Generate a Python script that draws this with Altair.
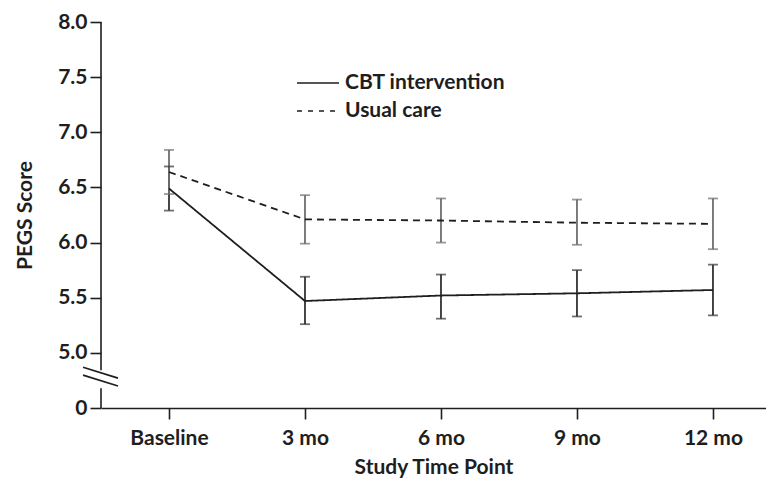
import altair as alt
import pandas as pd

# ---- data ----
timepoints = [0, 1, 2, 3, 4]
tick_labels = ["Baseline", "3 mo", "6 mo", "9 mo", "12 mo"]

cbt_mean = [6.49, 5.47, 5.52, 5.54, 5.57]
cbt_low = [6.29, 5.26, 5.31, 5.33, 5.34]
cbt_high = [6.69, 5.69, 5.71, 5.75, 5.80]

uc_mean = [6.64, 6.21, 6.20, 6.18, 6.17]
uc_low = [6.44, 5.99, 6.00, 5.98, 5.94]
uc_high = [6.84, 6.43, 6.40, 6.39, 6.40]

series_names = ["CBT intervention", "Usual care"]
y_ticks = [4.5, 5.0, 5.5, 6.0, 6.5, 7.0, 7.5, 8.0]  # 4.5 is shown as "0" (broken axis)

rows = []
for name, m, lo, hi in [
    (series_names[0], cbt_mean, cbt_low, cbt_high),
    (series_names[1], uc_mean, uc_low, uc_high),
]:
    for t, a, b, c in zip(timepoints, m, lo, hi):
        rows.append({"t": t, "series": name, "group": name, "mean": a, "low": b, "high": c})
df = pd.DataFrame(rows)
legend_df = pd.DataFrame({"series": series_names})

FONT = "Lato"
INK = "#1e1e1e"
X_DOMAIN = [-0.5, 4.39]
Y_DOMAIN = [4.5, 8.0]

label_expr = "[" + ",".join(f"'{s}'" for s in tick_labels) + "][datum.value]"

x_enc = alt.X(
    "t:Q",
    scale=alt.Scale(domain=X_DOMAIN, nice=False, zero=False),
    axis=alt.Axis(
        values=timepoints,
        labelExpr=label_expr,
        title="Study Time Point",
        grid=False,
        tickSize=11,
        labelPadding=8,
        titlePadding=8,
    ),
)
y_scale = alt.Scale(domain=Y_DOMAIN, nice=False, zero=False)
y_enc = alt.Y(
    "mean:Q",
    scale=y_scale,
    axis=alt.Axis(
        values=y_ticks,
        labelExpr="datum.value == 4.5 ? '0' : format(datum.value, '.1f')",
        title="PEGS Score",
        grid=False,
        domain=False,
        tickSize=11,
        labelPadding=3,
        titlePadding=22,
    ),
)

dash_scale = alt.Scale(domain=series_names, range=[[1, 0], [7, 5]])
color_scale = alt.Scale(domain=series_names, range=["#333333", "#6e6e6e"])

lines = alt.Chart(df).mark_line(color=INK, strokeWidth=1.8).encode(
    x=x_enc,
    y=y_enc,
    strokeDash=alt.StrokeDash("series:N", scale=dash_scale, legend=None),
    detail="series:N",
)

err = alt.Chart(df).mark_rule(strokeWidth=1.8).encode(
    x="t:Q",
    y=alt.Y("low:Q", scale=y_scale),
    y2="high:Q",
    color=alt.Color("group:N", scale=color_scale, legend=None),
)
cap_lo = alt.Chart(df).mark_tick(orient="horizontal", size=10, thickness=1.8).encode(
    x="t:Q",
    y=alt.Y("low:Q", scale=y_scale),
    color=alt.Color("group:N", scale=color_scale, legend=None),
)
cap_hi = alt.Chart(df).mark_tick(orient="horizontal", size=10, thickness=1.8).encode(
    x="t:Q",
    y=alt.Y("high:Q", scale=y_scale),
    color=alt.Color("group:N", scale=color_scale, legend=None),
)

# y-axis line drawn in two pieces with a break, plus the "//" break marks
axis_segments = pd.DataFrame({"x": [-0.5, -0.5], "y1": [8.0, 4.68], "y2": [4.843, 4.5]})
axis_line = alt.Chart(axis_segments).mark_rule(color=INK, strokeWidth=1.6).encode(
    x=alt.X("x:Q"),
    y=alt.Y("y1:Q", scale=y_scale),
    y2="y2:Q",
)
break_marks = pd.DataFrame(
    {"x1": [-0.632, -0.632], "x2": [-0.375, -0.375], "y1": [4.870, 4.798], "y2": [4.771, 4.699]}
)
breaks = alt.Chart(break_marks).mark_rule(color=INK, strokeWidth=1.6).encode(
    x=alt.X("x1:Q"),
    x2="x2:Q",
    y=alt.Y("y1:Q", scale=y_scale),
    y2="y2:Q",
)

# legend (drawn in the plot's upper middle, as in the reference)
leg_layers = []
for name, dash, ypix in zip(series_names, [[1, 0], [5, 6]], [61, 89]):
    base = alt.Chart(legend_df).transform_filter(alt.datum.series == name)
    leg_layers.append(
        base.mark_rule(color=INK, strokeWidth=1.6, strokeDash=dash).encode(
            x=alt.value(196), x2=alt.value(238), y=alt.value(ypix)
        )
    )
    leg_layers.append(
        base.mark_text(
            align="left", baseline="middle", font=FONT, fontSize=21,
            fontWeight="bold", color=INK,
        ).encode(x=alt.value(244), y=alt.value(ypix), text="series:N")
    )

chart = (
    alt.layer(err, cap_lo, cap_hi, lines, axis_line, breaks, *leg_layers)
    .properties(
        width=665,
        height=386,
        autosize=alt.AutoSizeParams(type="none"),
        padding={"left": 93, "top": 14, "right": 0, "bottom": 75},
        background="white",
    )
    .configure_view(stroke=None)
    .configure_axis(
        labelFont=FONT,
        titleFont=FONT,
        labelFontSize=21,
        titleFontSize=21,
        labelFontWeight="bold",
        titleFontWeight="bold",
        labelColor=INK,
        titleColor=INK,
        tickColor=INK,
        domainColor=INK,
        tickWidth=1.6,
        domainWidth=1.6,
    )
)

chart.save("out.html", embed_options={"renderer": "svg", "actions": False})
